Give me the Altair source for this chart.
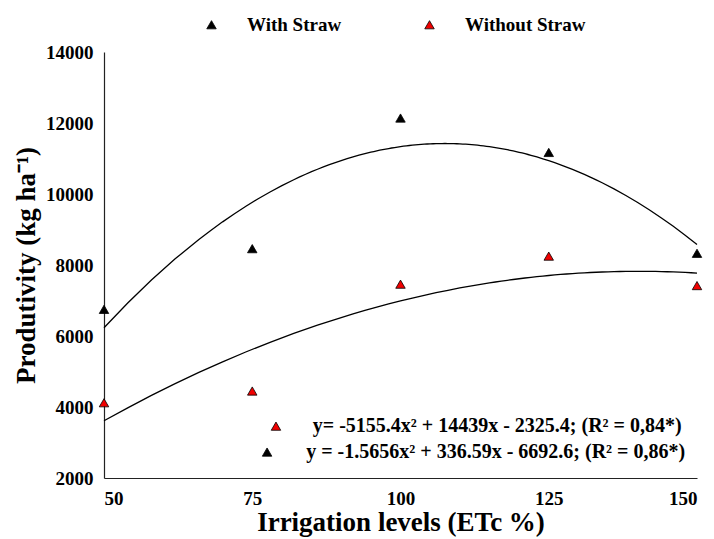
import altair as alt
import pandas as pd

levels = [50, 75, 100, 125, 150]
with_straw = [6750, 8460, 12140, 11170, 8330]
without_straw = [4120, 4450, 7460, 8250, 7420]
series_names = ["With Straw", "Without Straw"]
series_colors = ["#000000", "#f00000"]

eq_texts = ["y= -5155.4x² + 14439x - 2325.4; (R² = 0,84*)",
            "y = -1.5656x² + 336.59x - 6692.6; (R² = 0,86*)"]
eq_marker_series = ["Without Straw", "With Straw"]
eq_marker_x = [79.0, 77.5]
eq_text_x = [85.2, 84.1]
eq_y = [3460, 2730]

rows = []
for lv, a, b in zip(levels, with_straw, without_straw):
    rows.append({"level": lv, "value": a, "series": series_names[0]})
    rows.append({"level": lv, "value": b, "series": series_names[1]})
df = pd.DataFrame(rows)

eq_df = pd.DataFrame({"label": eq_texts, "series": eq_marker_series,
                      "mx": eq_marker_x, "tx": eq_text_x, "ty": eq_y})

FONT = "Liberation Serif"

xscale = alt.Scale(domain=[50, 150], nice=False, zero=False)
yscale = alt.Scale(domain=[2000, 14000], nice=False, zero=False)
cscale = alt.Scale(domain=series_names, range=series_colors)

xaxis = alt.Axis(values=levels, format="d", title="Irrigation levels (ETc %)", grid=False,
                 ticks=False, labelFont=FONT, labelFontWeight="bold", labelFontSize=19,
                 labelColor="black", labelPadding=11, titleFont=FONT, titleFontWeight="bold",
                 titleFontSize=27, titleColor="black", titlePadding=1,
                 domainColor="#222222", domainWidth=1.2)
yaxis = alt.Axis(values=list(range(2000, 14001, 2000)), format="d",
                 title="Produtivity (kg ha⁻¹)", grid=False, ticks=False, labelFont=FONT,
                 labelFontWeight="bold", labelFontSize=19, labelColor="black", labelPadding=11,
                 titleFont=FONT, titleFontWeight="bold", titleFontSize=27, titleColor="black",
                 titlePadding=5, domainColor="#222222", domainWidth=1.2)

legend = alt.Legend(orient="none", legendX=98, legendY=-37, direction="horizontal", title=None,
                    labelFont=FONT, labelFontWeight="bold", labelFontSize=19, labelColor="black",
                    symbolType="triangle-up", symbolSize=90, symbolStrokeColor="black",
                    symbolStrokeWidth=0.8, labelOffset=26, columnPadding=78, padding=0)

points = alt.Chart(df).mark_point(shape="triangle-up", filled=True, size=90, stroke="black",
                                  strokeWidth=0.8, opacity=1).encode(
    x=alt.X("level:Q", scale=xscale, axis=xaxis),
    y=alt.Y("value:Q", scale=yscale, axis=yaxis),
    color=alt.Color("series:N", scale=cscale, legend=legend),
)

curves = alt.Chart(df).transform_regression(
    "level", "value", groupby=["series"], method="poly", order=2
).mark_line(color="black", strokeWidth=1.3).encode(
    x=alt.X("level:Q", scale=xscale),
    y=alt.Y("value:Q", scale=yscale),
    detail="series:N",
)

eq_markers = alt.Chart(eq_df).mark_point(shape="triangle-up", filled=True, size=90, stroke="black",
                                         strokeWidth=0.8, opacity=1).encode(
    x=alt.X("mx:Q", scale=xscale),
    y=alt.Y("ty:Q", scale=yscale),
    color=alt.Color("series:N", scale=cscale, legend=None),
)

eq_labels = alt.Chart(eq_df).mark_text(align="left", baseline="middle", font=FONT,
                                       fontWeight="bold", fontSize=20, color="black").encode(
    x=alt.X("tx:Q", scale=xscale),
    y=alt.Y("ty:Q", scale=yscale),
    text="label:N",
)

chart = alt.layer(curves, points, eq_markers, eq_labels).properties(
    width=593, height=426,
    padding={"left": 104, "top": 52, "right": 17, "bottom": 61},
    autosize="none",
    background="white",
).configure_view(stroke=None)

chart.save("out.html", embed_options={"renderer": "svg", "actions": False})
